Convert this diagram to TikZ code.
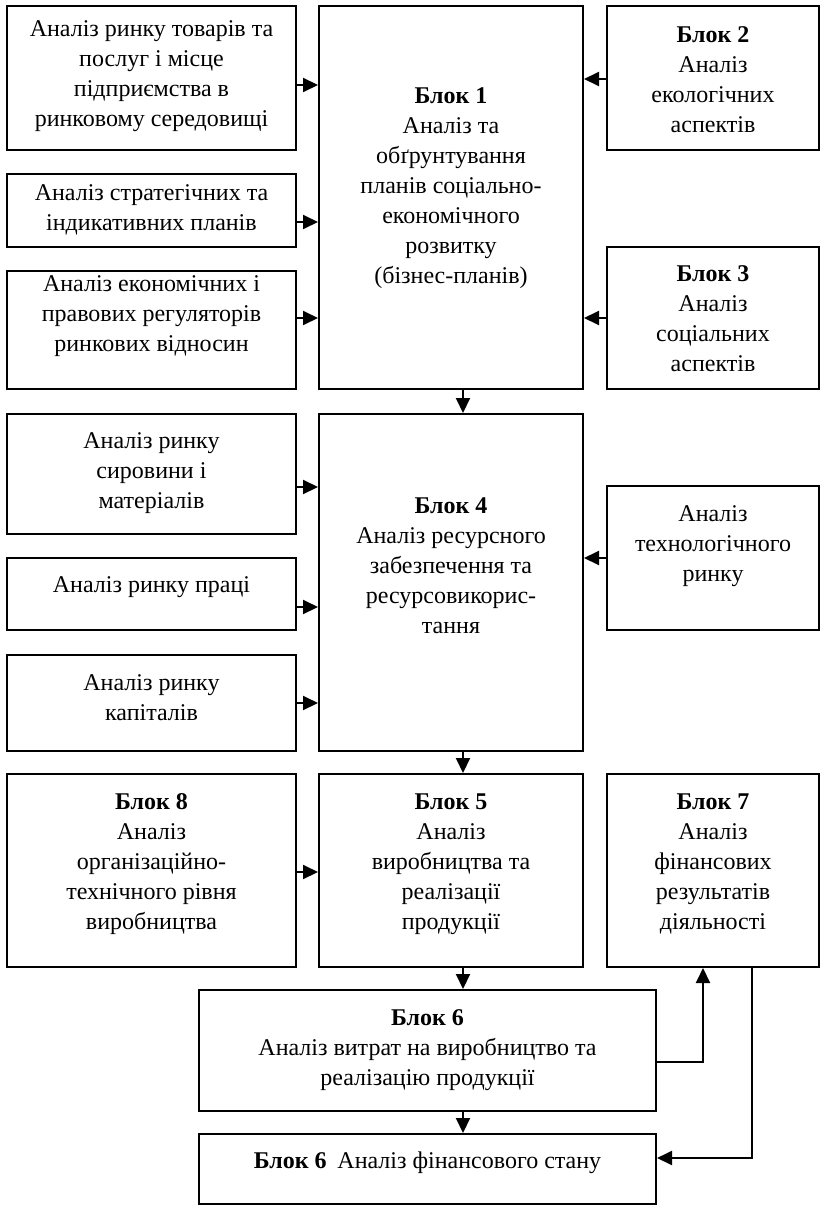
\documentclass[tikz,border=0pt]{standalone}
\usepackage{fontspec}
\setmainfont{Liberation Serif}
\usetikzlibrary{arrows.meta}
\tikzset{
  boxs/.style={draw=black, line width=2pt, rectangle, inner sep=0pt},
  txt/.style={align=center, inner sep=0pt, font=\fontsize{24}{30}\selectfont},
  arr/.style={line width=2pt, -{Triangle[length=15pt,width=14pt]}},
  ln/.style={line width=2pt}
}
\newcommand\mybox[7]{%
  \node[boxs, minimum width=#4pt, minimum height=#5pt] (#1) at (#2,#3) {};
  \node[txt] (#1-t) at (#2,#6) {#7};
}
\begin{document}
\begin{tikzpicture}[x=1pt,y=-1pt]
\useasboundingbox (0,0) rectangle (821,1206);
% left column
\mybox{a1}{151.5}{78}{289}{144}{76}{Аналіз ринку товарів та\\послуг і місце\\підприємства в\\ринковому середовищі}
\mybox{a2}{151.5}{210.5}{289}{73}{210}{Аналіз стратегічних та\\індикативних планів}
\mybox{a3}{151.5}{330}{289}{118}{316}{Аналіз економічних і\\правових регуляторів\\ринкових відносин}
\mybox{c1}{151.5}{474}{289}{120}{473}{Аналіз ринку\\сировини і\\матеріалів}
\mybox{c2}{151.5}{594}{289}{72}{587}{Аналіз ринку праці}
\mybox{c3}{151.5}{703}{289}{96}{698}{Аналіз ринку\\капіталів}
\mybox{b8}{151.5}{870.5}{289}{193}{864}{\textbf{Блок 8}\\Аналіз\\організаційно-\\технічного рівня\\виробництва}
% middle column
\mybox{b1}{451}{197.5}{264}{383}{188}{\textbf{Блок 1}\\Аналіз та\\обґрунтування\\планів соціально-\\економічного\\розвитку\\(бізнес-планів)}
\mybox{b4}{451}{582.5}{264}{337}{566}{\textbf{Блок 4}\\Аналіз ресурсного\\забезпечення та\\ресурсовикорис-\\тання}
\mybox{b5}{451}{870.5}{264}{193}{864}{\textbf{Блок 5}\\Аналіз\\виробництва та\\реалізації\\продукції}
% right column
\mybox{b2}{713}{78}{212}{144}{80}{\textbf{Блок 2}\\Аналіз\\екологічних\\аспектів}
\mybox{b3}{713}{318}{212}{142}{319}{\textbf{Блок 3}\\Аналіз\\соціальних\\аспектів}
\mybox{tech}{713}{558}{212}{144}{546}{Аналіз\\технологічного\\ринку}
\mybox{b7}{713}{870.5}{212}{193}{864}{\textbf{Блок 7}\\Аналіз\\фінансових\\результатів\\діяльності}
% bottom
\mybox{b6}{427.5}{1050.5}{457}{121}{1050}{\textbf{Блок 6}\\Аналіз витрат на виробництво та\\реалізацію продукції}
\mybox{b6b}{427.5}{1169}{457}{70}{1163}{\textbf{Блок 6}\hspace{0.45em}Аналіз фінансового стану}
% arrows into block 1
\draw[arr] (a1.east |- 0,85) -- (b1.west |- 0,85);
\draw[arr] (a2.east |- 0,222) -- (b1.west |- 0,222);
\draw[arr] (a3.east |- 0,318) -- (b1.west |- 0,318);
\draw[arr] (b2.west |- 0,79) -- (b1.east |- 0,79);
\draw[arr] (b3.west |- 0,318) -- (b1.east |- 0,318);
% arrows into block 4
\draw[arr] (c1.east |- 0,487) -- (b4.west |- 0,487);
\draw[arr] (c2.east |- 0,607) -- (b4.west |- 0,607);
\draw[arr] (c3.east |- 0,703) -- (b4.west |- 0,703);
\draw[arr] (tech.west |- 0,558) -- (b4.east |- 0,558);
% block 8 -> block 5
\draw[arr] (b8.east |- 0,872) -- (b5.west |- 0,872);
% vertical chain
\draw[arr] (b1.south -| 463,0) -- (b4.north -| 463,0);
\draw[arr] (b4.south -| 463,0) -- (b5.north -| 463,0);
\draw[arr] (b5.south -| 463,0) -- (b6.north -| 463,0);
\draw[arr] (b6.south -| 463,0) -- (b6b.north -| 463,0);
% block 6 -> block 7
\coordinate (k1) at (703,1062);
\draw[arr] (b6.east |- k1) -- (k1) -- (b7.south -| k1);
% block 7 -> block 6b
\coordinate (k2) at (752,1158);
\draw[arr] (b7.south -| k2) -- (k2) -- (b6b.east |- k2);
\end{tikzpicture}
\end{document}
